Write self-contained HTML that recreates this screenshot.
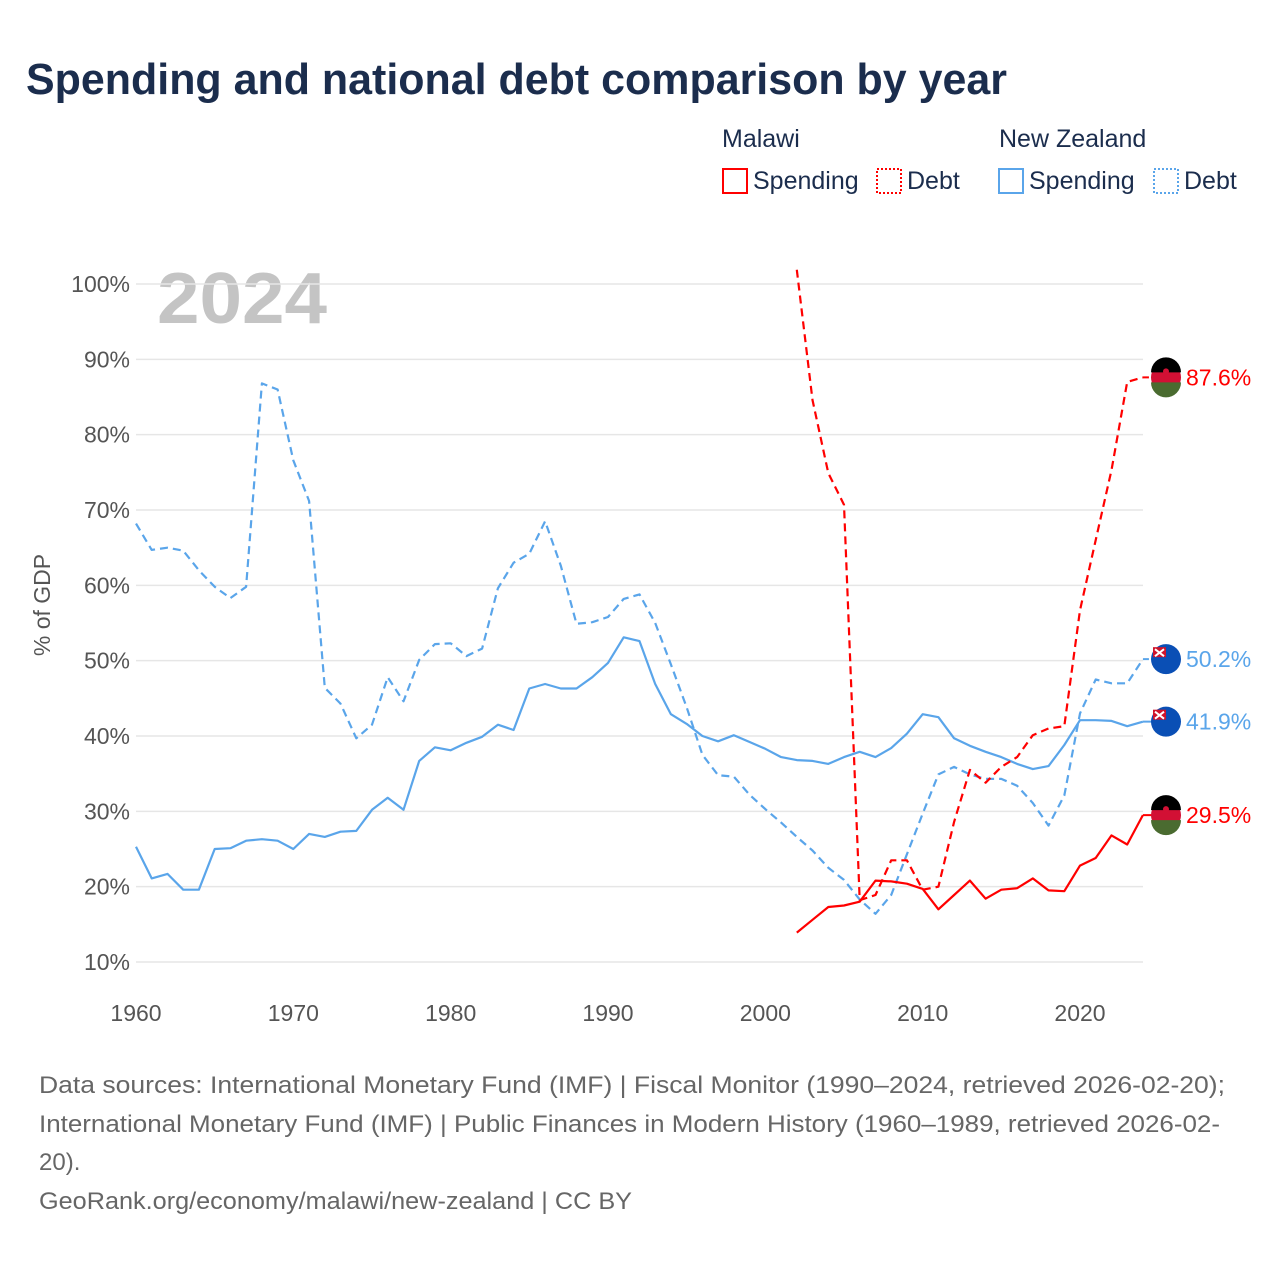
<!DOCTYPE html>
<html><head><meta charset="utf-8"><style>
body{margin:0;background:#fff;font-family:"Liberation Sans",sans-serif}
#wrap{position:relative;width:1280px;height:1280px;overflow:hidden}
</style></head><body>
<div id="wrap">
<svg id="chart" width="1280" height="1280" xmlns="http://www.w3.org/2000/svg">
<text x="26" y="94" font-size="44" font-weight="bold" fill="#1b2d4d" textLength="981" lengthAdjust="spacingAndGlyphs">Spending and national debt comparison by year</text>
<g font-size="25" fill="#1b2d4d">
<text x="722" y="147">Malawi</text>
<text x="999" y="147">New Zealand</text>
<g><rect x="723" y="169" width="24" height="24" fill="none" stroke="#ff0000" stroke-width="2"/><text x="753" y="189">Spending</text></g>
<g><rect x="877" y="169" width="24" height="24" fill="none" stroke="#ff0000" stroke-width="2" stroke-dasharray="2,2"/><text x="907" y="189">Debt</text></g>
<g><rect x="999" y="169" width="24" height="24" fill="none" stroke="#5aa5ea" stroke-width="2"/><text x="1029" y="189">Spending</text></g>
<g><rect x="1154" y="169" width="24" height="24" fill="none" stroke="#5aa5ea" stroke-width="2" stroke-dasharray="2,2"/><text x="1184" y="189">Debt</text></g>
</g>
<text x="157" y="323" font-size="72" font-weight="bold" fill="#c4c4c4" textLength="170" lengthAdjust="spacingAndGlyphs">2024</text>
<text transform="translate(50,605) rotate(-90)" text-anchor="middle" font-size="23" fill="#555">% of GDP</text>
<g id="grid"></g><g id="yt"></g><g id="xt"></g><g id="series"></g><g id="ends"></g>
<g font-size="24" fill="#666">
<text x="39" y="1093" textLength="1186" lengthAdjust="spacingAndGlyphs">Data sources: International Monetary Fund (IMF) | Fiscal Monitor (1990–2024, retrieved 2026-02-20);</text>
<text x="39" y="1132" textLength="1181" lengthAdjust="spacingAndGlyphs">International Monetary Fund (IMF) | Public Finances in Modern History (1960–1989, retrieved 2026-02-</text>
<text x="39" y="1170">20).</text>
<text x="39" y="1209" textLength="593" lengthAdjust="spacingAndGlyphs">GeoRank.org/economy/malawi/new-zealand | CC BY</text>
</g>
</svg>
</div>
<script>
const yTicks=[10,20,30,40,50,60,70,80,90,100];
const xTicks=[1960,1970,1980,1990,2000,2010,2020];
const nzYears0=1960;
const nzSpending=[25.3,21.1,21.7,19.6,19.6,25.0,25.1,26.1,26.3,26.1,25.0,27.0,26.6,27.3,27.4,30.2,31.8,30.2,36.7,38.5,38.1,39.1,39.9,41.5,40.8,46.3,46.9,46.3,46.3,47.8,49.7,53.1,52.6,46.9,42.9,41.6,40.0,39.3,40.1,39.2,38.3,37.2,36.8,36.7,36.3,37.2,37.9,37.2,38.4,40.3,42.9,42.5,39.7,38.7,37.9,37.2,36.3,35.6,36.0,38.8,42.1,42.1,42.0,41.3,41.9];
const nzDebt=[68.2,64.7,65.0,64.6,62.0,59.8,58.3,59.8,86.8,86.0,76.6,71.2,46.4,44.3,39.7,41.5,47.8,44.6,50.1,52.2,52.3,50.6,51.6,59.6,63.0,64.2,68.5,62.6,54.9,55.1,55.8,58.2,58.8,55.0,49.5,43.8,37.5,34.8,34.6,32.2,30.3,28.5,26.6,24.8,22.5,20.9,18.3,16.4,18.9,24.3,29.7,34.9,35.9,34.9,34.3,34.3,33.4,31.1,28.1,32.1,43.0,47.5,47.0,47.0,50.2];
const mwYears0=2002;
const mwSpending=[13.9,15.6,17.3,17.5,18.0,20.8,20.7,20.4,19.7,17.0,18.9,20.8,18.4,19.6,19.8,21.1,19.5,19.4,22.8,23.8,26.8,25.6,29.5];
const mwDebt=[101.9,84.6,74.9,70.7,18.2,18.9,23.5,23.5,19.6,20.0,28.6,35.5,33.8,35.9,37.2,40.1,41.0,41.3,56.7,66.0,75.3,87.0,87.6];
const NS="http://www.w3.org/2000/svg";
const X=y=>136+(y-1960)*(1080-136)/60;
const Y=v=>962-(v-10)*(962-284)/90;
function mk(tag,attrs,parent){const e=document.createElementNS(NS,tag);for(const k in attrs)e.setAttribute(k,attrs[k]);parent.appendChild(e);return e;}
const grid=document.getElementById('grid'),yt=document.getElementById('yt'),xt=document.getElementById('xt');
yTicks.forEach(v=>{
  const l=mk('line',{x1:136,x2:1143,y1:Y(v),y2:Y(v),stroke:'#e6e6e6','stroke-width':1.5},grid);
  
  
  const t=mk('text',{x:130,y:Y(v)+8,'text-anchor':'end','font-size':23,fill:'#555'},yt);
  t.textContent=v+'%';
  
  
});
xTicks.forEach(v=>{
  const t=mk('text',{x:X(v),y:1021,'text-anchor':'middle','font-size':23,fill:'#555'},xt);
  t.textContent=v;
  
  
});
const ser=document.getElementById('series');
function line(arr,y0,color,dash,name){
  const d=arr.map((v,i)=>(i?'L':'M')+X(y0+i).toFixed(1)+' '+Y(v).toFixed(1)).join(' ');
  const p=mk('path',{d:d,fill:'none',stroke:color,'stroke-width':2.2,'stroke-linejoin':'round'},ser);
  if(dash)p.setAttribute('stroke-dasharray','8,5');
  
  
}
line(nzDebt,nzYears0,'#5aa5ea',true,'nz-debt-line');
line(nzSpending,nzYears0,'#5aa5ea',false,'nz-spending-line');
line(mwDebt,mwYears0,'#ff0000',true,'malawi-debt-line');
line(mwSpending,mwYears0,'#ff0000',false,'malawi-spending-line');
const ends=document.getElementById('ends');
function endLabel(arr,y0,color,flag,name,dash){
  const v=arr[arr.length-1],yy=Y(v),xx=X(y0+arr.length-1);
  const c=mk('line',{x1:xx,x2:1160,y1:yy,y2:yy,stroke:color,'stroke-width':2},ends);
  if(dash)c.setAttribute('stroke-dasharray','6,4');
  const g=mk('g',{},ends);
  
  
  if(flag==='mw'){
    mk('circle',{cx:1166,cy:yy,r:15,fill:'#d21034'},g);
    mk('path',{d:`M1151 ${yy-5} A15 15 0 0 1 1181 ${yy-5} Z`,fill:'#000'},g);
    mk('path',{d:`M1151 ${yy+5} A15 15 0 0 0 1181 ${yy+5} Z`,fill:'#4a6b30'},g);
    mk('circle',{cx:1166,cy:yy-6,r:3,fill:'#d21034'},g);
  }else{
    mk('circle',{cx:1166,cy:yy,r:15,fill:'#0a4fb5'},g);
    mk('rect',{x:1153,y:yy-12,width:13,height:10,fill:'#cf142b'},g);
    mk('path',{d:`M1155 ${yy-10} L1164 ${yy-3} M1164 ${yy-10} L1155 ${yy-3}`,stroke:'#fff','stroke-width':2},g);
  }
  const t=mk('text',{x:1186,y:yy+8,'font-size':23,fill:color},ends);
  t.textContent=v.toFixed(1)+'%';
  
  
}
endLabel(mwDebt,mwYears0,'#ff0000','mw','malawi-debt-end',true);
endLabel(nzDebt,nzYears0,'#5aa5ea','nz','nz-debt-end',true);
endLabel(nzSpending,nzYears0,'#5aa5ea','nz','nz-spending-end',false);
endLabel(mwSpending,mwYears0,'#ff0000','mw','malawi-spending-end',false);
</script>
</body></html>
